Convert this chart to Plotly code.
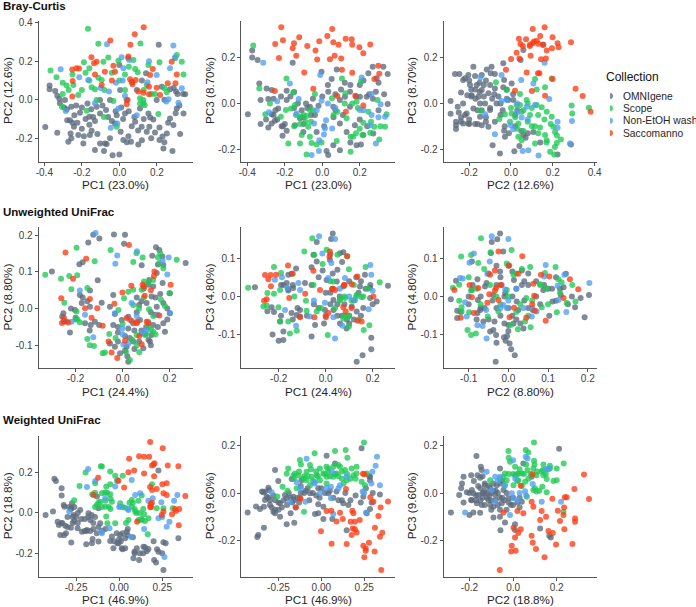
import plotly.graph_objects as go

W, H = 696, 607
COLLECTIONS = ['OMNIgene', 'Scope', 'Non-EtOH wash', 'Saccomanno']
COLORS = ['#5b6a7c', '#1fc955', '#4f9ff0', '#fb3c14']

# --- Bray-Curtis, PC1 / PC2
bc12_omni = [(-.395,-.142),(-.372,.073),(-.372,.054),(-.342,.045),(-.331,.021),(-.32,.005),(-.331,-.171),(-.317,-.019),(-.295,-.04),(-.29,-.002),(-.278,-.106),(-.263,-.106),(-.256,-.036),(-.272,-.218),(-.26,-.175),(-.256,-.2),(-.242,-.14),(-.21,-.067),(-.2,-.04),(-.219,-.183),(-.192,-.227),(-.189,-.189),(-.224,-.119),(-.16,-.088),(-.157,-.183),(-.148,-.161),(-.13,-.261),(-.117,-.178),(-.103,-.227),(-.077,-.227),(-.068,-.23),(-.082,-.265),(-.036,-.287),(0,-.284),(-.121,-.036),(-.103,-.071),(-.071,-.054),(-.103,-.002),(.021,-.209),(.048,-.189),(.066,-.137),(.084,-.114),(.101,-.232),(.062,-.218),(.119,-.14),(.146,-.166),(.164,-.092),(.181,-.102),(.214,-.144),(.214,-.209),(.235,-.253),(.283,-.266),(.253,-.175),(.27,-.097),(.288,-.131),(.324,-.178),(.342,-.071),(.351,.028),(.306,-.045),(.27,.054),(.302,.042),(.21,.284),(.142,.137),(.093,.05),(-.014,-.08),(.03,-.071),(-.05,-.002),(.004,.05),(.039,-.002),(.048,.215),(.007,-.166),(-.023,-.123),(.199,-.002),(.155,-.071),(.11,-.045),(.226,.067),(-.28,-.05),(-.24,-.08),(-.23,-.03),(-.18,-.1),(-.17,-.02),(-.15,-.05),(-.14,-.09),(-.13,-.11),(-.09,-.03),(-.06,-.09),(-.04,-.11),(-.02,-.06),(.01,-.04),(.02,-.1),(.05,-.06),(.08,-.09),(.1,-.16),(.13,-.1),(.16,-.14),(.19,-.17),(.23,-.19),(.26,-.12),(.3,-.07),(.32,-.03),(.24,.0),(.29,.06),(-.25,-.12),(-.2,-.15),(-.16,-.13),(-.05,-.2),(.04,-.22),(.12,-.21),(.17,-.2),(.24,-.22),(.31,.03),(.34,.03),(.12,.1),(.0,.18)]
bc12_scope = [(-.167,.367),(-.112,.289),(.112,.291),(-.367,.151),(-.335,.116),(-.302,.088),(-.302,.029),(-.306,-.036),(-.281,.073),(-.245,.076),(-.219,.024),(-.189,.194),(-.16,.163),(-.148,.064),(-.13,.054),(-.112,.114),(-.094,.102),(-.059,.218),(-.085,.197),(-.005,.201),(-.032,-.007),(-.121,-.002),(-.174,-.057),(-.082,-.09),(-.014,-.14),(.075,.206),(.084,.159),(.098,.142),(.03,.05),(.128,-.019),(.155,.18),(.146,.076),(.171,.029),(.214,.194),(.208,-.074),(.306,.232),(.333,.197),(.342,.131),(.253,.038),(.128,-.002),(.135,-.029),(.11,.007),(.297,.215),(-.25,.13),(-.2,.05),(-.16,.1),(-.08,.05),(-.04,.14),(.0,.1),(.03,.13),(.07,.09),(.13,.05),(.19,.03),(.24,.06),(.11,-.02),(-.27,.05),(-.18,.14),(.05,.17)]
bc12_wash = [(-.066,.287),(-.313,.157),(-.214,.116),(-.166,.102),(-.286,-.059),(-.13,-.019),(-.055,.043),(-.018,.088),(.018,.099),(.012,.22),(.021,.163),(.053,.206),(-.005,-.045),(-.046,-.145),(-.011,-.123),(.093,-.08),(.158,.199),(.199,.128),(.27,.163),(.288,.28),(.297,.22),(.333,.059),(.262,.002),(.315,-.016),(-.1,.06),(.03,.02),(.15,.09),(.25,-.01)]
bc12_sacc = [(.13,.375),(.082,.339),(-.048,.306),(.059,.284),(.048,.223),(-.149,.22),(-.121,.197),(-.135,.189),(-.077,.145),(-.032,.176),(-.023,.145),(-.228,.163),(-.215,.161),(-.251,.156),(-.249,.097),(-.251,.016),(-.094,.076),(.057,.106),(.066,.093),(.087,.102),(.044,-.002),(.039,-.024),(.101,.042),(.128,.036),(.158,.067),(.158,.028),(.178,.159),(.199,.062),(.217,.024),(.258,.085),(.299,.085),(.279,.197),(.306,.131),(.164,.128),(-.13,.13),(-.04,.1),(.07,.08)]

# --- Bray-Curtis, PC1 / PC3
bc13_omni = [(-.397,-.047),(-.374,.23),(-.374,.2),(-.345,.189),(-.336,.087),(-.329,.015),(-.329,-.09),(-.288,.019),(-.297,.065),(-.27,.058),(-.27,-.047),(-.27,-.087),(-.288,-.105),(-.253,-.076),(-.217,-.099),(-.212,-.141),(-.19,-.119),(-.158,.177),(-.19,.055),(-.235,-.022),(-.19,.015),(-.087,0),(-.119,-.065),(-.101,-.124),(-.039,-.051),(-.03,-.124),(-.004,.138),(.05,.106),(.077,.148),(.032,.051),(.059,-.015),(.094,.015),(.121,.029),(.148,.051),(.201,.029),(.269,.16),(.326,.16),(.349,.128),(.246,.131),(.29,.109),(.349,-.003),(.237,.029),(.286,.051),(.183,-.182),(.206,-.179),(.094,-.204),(.032,-.225),(.023,-.207),(.059,-.182),(.094,-.087),(.13,-.124),(.174,-.095),(.219,-.138),(.272,-.131),(.148,-.015),(-.066,-.015),(-.146,-.095),(-.3,-.07),(-.26,-.05),(-.24,-.07),(-.2,-.09),(-.17,.03),(-.15,-.02),(-.13,.0),(-.11,-.03),(-.1,-.06),(-.08,-.02),(-.06,-.05),(-.05,.02),(-.02,-.01),(0,.03),(.03,.08),(.07,-.03),(.07,.04),(.1,.06),(.12,.09),(.15,.08),(.18,.03),(.2,.08),(.22,.1),(.25,.04),(.27,.02),(.3,.09),(.3,-.03),(.33,.04),(-.22,.03),(-.26,.02),(-.25,-.03),(-.1,-.09),(.01,-.1),(.06,-.06),(.11,-.05),(.15,-.17),(.2,-.07),(.24,-.1),(-.15,.05),(-.21,-.1)]
bc13_scope = [(-.368,.252),(-.191,.108),(-.336,.065),(-.279,0),(-.304,-.047),(-.155,.048),(-.039,.041),(.052,.022),(.105,.108),(.123,.044),(.206,.095),(.183,.007),(.295,.015),(-.194,-.029),(-.167,-.022),(-.146,-.007),(-.221,-.058),(-.119,-.058),(-.084,-.055),(-.066,-.029),(-.181,-.175),(-.119,-.175),(-.057,-.172),(-.03,-.179),(-.004,-.17),(-.084,-.223),(.077,-.164),(.151,-.145),(.165,-.145),(.151,-.211),(.214,-.138),(.304,-.157),(.256,-.128),(.335,-.102),(.278,-.102),(.343,-.047),(.246,-.036),(.219,-.084),(.08,-.036),(.13,-.065),(-.11,-.138),(-.066,-.145),(-.119,-.09),(-.075,-.102),(-.14,-.05),(-.1,-.05),(-.09,-.08),(-.06,-.08),(.06,-.05),(.12,.0),(.16,.0),(.19,-.02),(.26,-.08),(.31,-.1),(.2,-.11),(-.15,-.1),(-.05,-.03),(.18,-.13)]
bc13_wash = [(-.315,.177),(-.011,.124),(-.173,.087),(-.126,.019),(-.24,.009),(-.285,-.039),(-.004,.012),(.21,.113),(.263,.041),(.311,-.004),(.263,-.051),(.201,-.029),(-.137,-.044),(-.044,-.087),(.02,-.073),(.014,-.109),(.053,-.109),(.009,-.135),(-.016,-.16),(-.018,-.207),(-.057,-.225),(.286,-.175),(.254,-.095),(.335,-.058),(-.03,-.03),(.03,.0),(.07,-.02),(.22,-.03),(.3,-.06)]
bc13_sacc = [(-.219,.332),(.053,.324),(.027,.294),(-.123,.288),(-.21,.275),(-.251,.259),(-.151,.262),(-.158,.24),(-.08,.25),(-.016,.271),(.059,.266),(.087,.255),(.125,.281),(.157,.279),(.16,.255),(.198,.244),(.256,.257),(.219,.218),(-.036,.23),(-.027,.191),(-.139,.208),(-.231,.198),(.066,.207),(.041,.192),(.101,.196),(-.096,.135),(.105,.147),(.16,.134),(.299,.164),(.304,.129),(.278,.106),(-.048,.064),(-.253,.054),(.08,.032),(.176,.033),(.126,-.036),(.219,-.009)]

# --- Bray-Curtis, PC2 / PC3
bc23_omni = [(-.289,.01),(-.289,-.045),(-.268,.128),(-.247,.128),(-.263,-.08),(-.263,-.095),(-.263,-.112),(-.255,-.015),(-.239,.048),(-.239,-.061),(-.229,.102),(-.22,.109),(-.204,.124),(-.229,0),(-.212,-.044),(-.229,-.087),(-.204,-.087),(-.209,.036),(-.18,.16),(-.172,.119),(-.14,.124),(-.164,.08),(-.188,.036),(-.156,.029),(-.172,-.09),(-.14,-.095),(-.116,.148),(-.093,.16),(-.097,.131),(-.077,.128),(-.037,.175),(-.033,.102),(.003,.087),(-.14,.058),(-.108,.044),(-.077,.065),(-.037,.07),(-.124,0),(-.1,-.029),(-.069,0),(-.077,-.08),(-.108,-.102),(-.088,-.182),(-.053,-.218),(.016,-.208),(.04,-.186),(-.029,-.145),(-.033,-.119),(.059,-.138),(.059,.233),(.046,.189),(.155,.255),(.223,-.223),(.287,-.179),(-.013,.015),(.011,.015),(.107,-.124),(-.18,-.022),(-.148,0),(-.148,-.058),(-.196,.08),(-.25,-.04),(-.22,-.05),(-.2,-.07),(-.19,.06),(-.17,.06),(-.17,.02),(-.15,.05),(-.13,.03),(-.13,.08),(-.19,.03),(-.16,-.03),(-.14,-.03),(-.12,-.06),(-.09,.02),(-.08,.04),(-.06,.03),(-.02,.06),(-.02,.02),(-.1,.08),(-.12,.1),(-.15,.09),(-.2,.1),(-.24,-.08),(-.2,-.09),(-.16,-.09),(-.12,-.08),(-.05,-.05),(.02,-.05),(.02,-.1),(.05,-.12),(-.01,-.13),(.03,-.03),(-.04,-.03),(.07,-.15),(.14,-.17),(-.1,-.02),(-.05,.0),(.08,-.13),(.01,.04),(-.03,-.1)]
bc23_scope = [(-.072,.092),(.115,.106),(.195,.108),(.163,.07),(.123,.061),(-.021,.058),(.043,.041),(.29,-.009),(.293,-.044),(.373,-.019),(-.145,-.032),(-.056,-.068),(-.029,-.047),(.003,-.044),(.043,-.007),(.075,.015),(.123,-.007),(.147,-.017),(.171,-.036),(.195,-.058),(.115,-.099),(.08,-.08),(-.005,-.08),(.035,-.087),(.203,-.102),(.211,-.124),(.035,-.145),(.051,-.16),(.115,-.175),(.171,-.16),(.187,-.211),(.207,-.223),(.219,-.172),(.239,-.157),(.163,-.138),(.139,-.105),(.091,-.051),(.051,-.036),(.027,-.007),(.0,-.02),(.06,-.03),(.1,-.02),(.08,.0),(.13,-.05),(.16,-.07),(.19,-.09),(.1,-.1),(.13,-.13),(.17,-.17),(.21,-.19),(.03,-.11),(.06,-.12),(.02,-.06),(.22,-.14)]
bc23_wash = [(-.147,.113),(-.045,.124),(.049,.102),(.107,.087),(.161,.177),(.183,.019),(-.045,.01),(-.077,-.134),(-.124,-.047),(-.002,-.095),(.011,-.113),(.051,-.061),(.223,-.08),(.223,-.106),(.292,-.077),(.282,-.175),(.132,-.227),(.083,-.204),(.056,-.207),(.075,-.015),(-.021,.015),(.115,-.007),(.03,-.04),(.08,-.07),(.03,.0)]
bc23_sacc = [(.104,.324),(.161,.332),(.14,.294),(.199,.288),(.038,.281),(.072,.279),(.045,.259),(.057,.25),(.091,.255),(.104,.262),(.123,.273),(.152,.255),(.223,.262),(.228,.244),(.287,.266),(.196,.24),(.171,.23),(.027,.221),(0,.193),(.04,.196),(.094,.207),(.144,.192),(.167,.196),(-.024,.147),(.075,.135),(.136,.131),(.199,.106),(.019,.055),(.1,.054),(.163,.033),(.309,.064),(.343,.032),(.381,-.036),(.129,.131),(.11,.27),(.13,.26),(.09,.25)]

# --- Unweighted UniFrac, PC1 / PC2
uu12_omni = [(-.301,.101),(-.146,.18),(-.125,.201),(-.099,.191),(-.037,.202),(.01,.201),(.006,.177),(-.184,.121),(-.17,.126),(-.106,.077),(.142,.167),(.156,.16),(.126,.144),(.169,.142),(.268,.124),(.081,.118),(.173,.119),(.113,.078),(-.139,.049),(-.182,.037),(-.174,.015),(-.252,-.013),(-.257,-.022),(-.224,-.065),(-.203,-.004),(-.136,-.045),(-.118,-.036),(-.139,.005),(-.089,.016),(-.04,.037),(-.054,.005),(-.033,-.015),(-.04,-.045),(-.004,-.031),(.024,-.022),(.024,-.054),(.045,-.04),(.045,-.09),(.116,-.09),(-.033,-.104),(-.011,-.122),(.024,-.145),(.088,-.108),(.123,-.072),(.138,-.017),(.173,-.04),(.102,.015),(.123,.033),(.201,-.013),(.18,-.063),(.145,.005),(.173,.015),(.201,.042),(.074,-.031),(.017,-.104),(-.054,-.095),(.095,-.067),(.109,.065),(.145,.097),(-.24,-.035),(-.2,-.025),(-.17,.03),(-.16,-.04),(-.14,-.06),(-.1,-.045),(-.02,-.05),(-.02,-.09),(.01,-.075),(.03,-.08),(.01,-.115),(.02,-.13),(.05,-.06),(.07,-.09),(.08,-.06),(.06,-.01),(.1,-.05),(.11,-.085),(.12,-.1),(.13,-.045),(.15,-.05),(.12,-.01),(.08,.02),(.06,.03),(.09,.055),(.13,.06),(.14,.03),(.15,.12),(.17,.07),(.16,.04),(.19,.0),(.19,-.03),(.07,.01),(.05,-.11),(-.02,-.065),(-.22,.0),(-.25,-.035),(-.15,.02)]
uu12_scope = [(-.329,.092),(-.262,.081),(-.227,.089),(-.193,.091),(-.196,.166),(-.119,.129),(-.051,.16),(.045,.127),(.059,.151),(.085,.139),(.156,.124),(.23,.133),(.173,.11),(-.218,.053),(-.15,.056),(-.248,.016),(-.196,-.008),(-.193,-.029),(-.182,-.037),(-.15,-.083),(-.14,-.1),(-.122,-.102),(-.085,-.122),(-.075,-.12),(-.057,-.069),(-.018,-.004),(.006,.028),(.045,.051),(.024,.046),(.045,.01),(.091,.074),(.112,-.002),(.121,-.058),(.13,-.063),(.163,.024),(.18,.007),(.199,.042),(.031,-.14),(.071,-.119),(.06,-.072),(.095,-.072),(.13,.078),(.081,.051),(.014,-.118),(0,-.042),(.07,.0),(.09,.03),(.11,.07),(.1,-.07),(.14,-.07),(.06,-.1),(.04,-.085),(.15,.14),(.11,-.05),(-.03,-.08),(.16,.15),(-.2,-.03),(.13,-.02)]
uu12_wash = [(-.115,.206),(-.023,.145),(-.031,.122),(.061,.156),(.196,.139),(.19,.093),(-.182,.049),(-.16,-.017),(-.217,-.036),(-.125,-.078),(-.033,-.013),(-.001,-.054),(.031,-.031),(.003,-.098),(.024,-.095),(.081,-.067),(.201,-.013),(.149,-.017),(.109,-.036),(.038,.015),(.0,-.07),(.06,-.02),(.1,-.06),(.17,.13)]
uu12_sacc = [(-.243,.153),(-.155,.136),(.027,.173),(-.211,.081),(-.261,.028),(-.25,-.025),(-.258,-.039),(-.231,-.038),(-.139,.026),(-.16,.001),(-.108,.001),(-.132,-.025),(-.085,-.047),(-.035,.013),(-.001,.044),(.037,.062),(.085,.065),(.094,.035),(.135,.101),(.133,.089),(.204,.065),(.017,-.026),(.038,-.033),(.062,-.036),(.102,-.036),(.071,-.075),(.081,-.097),(.01,-.088),(-.06,-.09),(-.047,-.12),(-.023,-.135),(.156,-.019),(.09,.06),(.12,.05),(.06,-.04),(.11,-.04)]

# --- Unweighted UniFrac, PC1 / PC3
uu13_omni = [(.03,.164),(-.038,.142),(.023,.15),(.018,.096),(.061,.113),(.075,.115),(-.301,.024),(-.145,.059),(-.126,.073),(-.159,.057),(.265,.028),(-.06,.076),(-.013,.068),(-.038,.091),(-.052,.109),(-.248,-.038),(-.23,-.028),(-.226,-.099),(-.2,-.115),(-.18,-.113),(-.18,-.091),(.132,-.17),(.157,-.153),(.194,-.137),(.194,-.107),(-.06,-.104),(-.088,.035),(-.138,.022),(-.18,.03),(-.166,.035),(-.159,.016),(-.109,-.035),(-.109,-.052),(-.045,-.074),(-.007,-.07),(.033,-.035),(.033,-.009),(.061,-.07),(.089,-.083),(.111,-.026),(.146,.026),(.167,.057),(.189,.022),(.217,-.013),(.189,-.004),(.132,-.039),(.075,.026),(.047,.039),(-.003,-.035),(.004,.043),(-.194,-.065),(-.145,-.043),(-.123,-.048),(.02,.01),(.05,-.02),(.06,.0),(.08,-.02),(.1,-.05),(.12,-.01),(.14,.01),(.1,.04),(.13,.05),(.15,.04),(.17,.02),(.19,.03),(.05,-.05),(.07,-.05),(.09,-.06),(.12,-.06),(.02,-.02),(.0,-.05),(-.03,-.03),(-.05,-.02),(-.08,-.05),(-.12,-.03),(-.16,.02),(-.19,.03),(-.22,-.04),(-.14,.03),(-.06,.03),(-.03,.05),(.03,.06),(.07,.09),(.02,.11),(.1,-.07),(.15,-.05),(.2,-.02),(.16,-.03),(-.14,-.06),(-.19,-.05),(.0,.01),(.05,.07),(.03,.02)]
uu13_scope = [(-.33,.023),(-.265,-.026),(-.251,-.023),(-.248,.009),(-.22,.077),(-.19,.061),(-.194,.017),(-.22,.007),(-.201,-.028),(-.194,-.065),(-.159,-.065),(-.152,-.096),(-.123,-.089),(-.133,0),(-.084,-.011),(-.081,-.037),(-.091,.117),(-.057,.152),(-.048,.108),(-.013,.085),(.004,.122),(.05,.109),(.009,-.1),(.092,.105),(.099,.071),(.17,.077),(.23,.037),(.186,-.075),(.162,-.087),(.099,-.078),(.075,-.057),(.089,-.052),(.061,-.007),(.082,-.004),(.153,-.002),(.132,.004),(.033,.039),(-.038,-.039),(-.052,.03),(.08,-.05),(.1,-.05),(.08,.0),(.11,-.01),(.13,.0),(.16,.0),(.06,-.01),(.04,-.03),(.14,-.06),(.02,.04),(-.02,-.03),(.12,.03),(.18,.02)]
uu13_wash = [(-.028,.157),(.04,.15),(-.014,.112),(.024,.087),(-.186,.05),(-.216,.044),(-.163,.022),(-.116,.035),(-.109,.017),(-.173,-.035),(-.126,-.076),(-.067,-.052),(.04,-.109),(.011,.048),(.082,.048),(.19,.082),(.194,.057),(.2,.015),(.183,-.033),(.071,-.076),(.033,-.054),(-.003,-.016),(.125,-.009),(.06,.02),(.1,.0),(-.05,-.01)]
uu13_sacc = [(-.16,.081),(-.14,.059),(-.258,.056),(-.234,.056),(-.211,.057),(-.244,.045),(-.233,.027),(-.262,-.011),(-.251,-.007),(-.155,-.004),(-.109,-.054),(-.087,.007),(-.052,.067),(-.024,.017),(-.048,-.054),(.001,-.054),(.011,-.043),(.018,.117),(.016,.104),(.091,.105),(.135,.052),(.111,.032),(.078,.03),(.027,.019),(.04,.017),(.203,0),(.075,-.028),(.085,-.039),(.136,-.063),(.153,-.065),(.03,.02),(.11,-.03),(.08,.03)]

# --- Unweighted UniFrac, PC2 / PC3
uu23_omni = [(-.021,.164),(-.028,.149),(-.042,.142),(-.145,-.007),(-.132,.041),(-.129,-.037),(-.129,-.056),(-.092,.091),(-.078,.045),(-.077,-.009),(-.078,-.043),(-.092,.017),(-.059,.026),(-.071,-.035),(-.063,-.065),(-.046,-.091),(-.038,-.087),(-.031,-.1),(-.035,-.065),(-.011,-.106),(-.003,-.103),(-.007,-.115),(.003,-.122),(.007,-.137),(.016,-.153),(-.032,-.17),(-.055,.035),(-.038,.004),(-.017,.03),(-.008,.009),(.014,.043),(.034,.03),(.05,.03),(.021,-.013),(.025,-.035),(0,-.074),(.038,-.083),(.061,-.035),(.013,-.07),(.034,.068),(-.021,.065),(.088,.017),(.111,-.013),(.103,-.05),(.145,.059),(.132,.004),(.168,-.028),(.182,-.004),(.192,-.054),(.203,.004),(.139,.024),(.12,-.011),(.01,.065),(-.013,.117),(-.044,.113),(-.1,-.02),(-.07,.0),(-.06,-.03),(-.05,-.06),(-.03,-.03),(-.02,-.05),(0,-.03),(.01,-.05),(.02,-.06),(.01,0),(.02,.02),(.04,-.01),(.04,.04),(.05,-.03),(.07,.04),(.07,.0),(.08,-.02),(.09,.03),(.1,.02),(.11,.02),(.12,.05),(.13,.02),(-.03,.03),(-.04,-.01),(-.01,.0),(-.02,.05),(-.05,.06),(-.03,.08),(.0,.08),(-.1,.0),(-.12,-.04),(-.08,-.06),(-.07,-.03),(-.09,.03),(.03,-.07),(.0,-.09),(-.03,-.12),(.05,.06),(.16,.0),(.15,-.02),(-.01,-.07)]
uu23_scope = [(-.069,.152),(-.119,.104),(-.094,.108),(-.045,.115),(.008,.121),(-.076,.087),(-.061,.072),(.055,.077),(.034,.072),(-.004,.086),(.013,.057),(.119,.077),(.092,.061),(.126,.045),(.134,.037),(.161,.03),(.169,-.013),(.147,-.017),(.122,-.041),(-.14,.023),(-.124,.031),(-.124,-.011),(-.094,.016),(-.118,-.028),(-.099,-.041),(-.118,-.039),(-.103,-.087),(-.094,-.1),(-.082,-.096),(-.052,-.052),(-.025,-.039),(.006,-.074),(.024,-.085),(.056,-.08),(.042,-.065),(.084,-.028),(.097,.021),(.08,.032),(-.046,.03),(-.004,.017),(.045,-.004),(.0,.0),(.03,-.02),(.06,-.01),(.08,.03),(.02,-.04),(-.07,-.02),(-.08,.02),(-.02,-.02),(.02,.06),(.05,-.05),(.1,-.02),(.13,.01),(-.03,.0),(-.1,.05)]
uu23_wash = [(-.042,.157),(0,.15),(-.087,.112),(-.098,.088),(-.047,.091),(-.053,.059),(-.122,.048),(-.115,.047),(-.109,-.015),(-.105,-.052),(-.078,-.075),(-.065,-.077),(-.055,-.109),(-.056,-.035),(-.013,-.022),(-.004,-.03),(.038,-.03),(.059,-.052),(.094,.082),(.09,.052),(.124,.028),(.141,.057),(.126,-.009),(.146,-.04),(.204,.035),(-.008,.018),(.071,-.039),(-.02,-.03),(.0,-.01),(.02,.02),(.06,-.03)]
uu23_sacc = [(.035,.105),(-.025,.117),(.002,.081),(-.034,.068),(-.136,.017),(-.098,.03),(-.076,.022),(-.048,.006),(-.092,-.002),(-.087,-.043),(-.12,-.055),(-.053,-.016),(-.025,-.009),(-.034,.016),(-.046,.057),(.003,-.054),(.014,-.029),(.025,.059),(.063,.033),(.082,.057),(.103,.052),(.065,.002),(.067,-.037),(.045,-.055),(.094,-.063),(.155,.045),(.176,.019),(.139,-.004),(-.031,.022),(-.02,.03),(.06,-.02)]

# --- Weighted UniFrac, PC1 / PC2
wu12_omni = [(-.427,-.01),(-.384,.007),(-.376,.169),(-.367,.159),(-.334,.122),(-.334,.086),(-.357,-.043),(-.336,-.051),(-.342,-.109),(-.313,-.063),(-.322,.04),(-.317,.031),(-.274,.048),(-.278,.023),(-.264,-.01),(-.261,-.04),(-.28,-.073),(-.309,-.101),(-.278,-.147),(-.241,-.076),(-.216,-.093),(-.226,.015),(-.178,-.002),(-.168,-.035),(-.187,-.084),(-.168,-.089),(-.191,-.155),(-.154,-.129),(-.158,-.15),(-.12,-.142),(-.129,.081),(-.12,.023),(-.11,-.051),(-.052,-.139),(-.033,-.175),(.006,-.109),(-.004,-.15),(.015,-.175),(.044,-.093),(.035,-.175),(.089,-.192),(.083,-.225),(.116,-.233),(.141,-.167),(.17,-.179),(.203,-.233),(.214,-.245),(.257,-.283),(.228,-.192),(.257,-.145),(.344,-.126),(.228,.21),(.035,-.126),(-.014,-.101),(.102,-.175),(-.042,-.117),(-.33,-.05),(-.3,-.02),(-.3,-.07),(-.28,.02),(-.26,.03),(-.25,-.02),(-.27,-.05),(-.24,-.05),(-.22,-.03),(-.2,-.03),(-.2,-.09),(-.19,-.09),(-.15,-.08),(-.15,-.05),(-.12,-.07),(-.13,-.1),(-.18,-.02),(-.14,-.02),(-.1,-.09),(-.08,-.08),(-.03,-.14),(-.01,-.15),(.01,-.14),(.0,-.13),(.02,-.18),(.05,-.11),(.08,-.12),(.09,-.2),(.12,-.2),(.14,-.2),(.16,-.19),(.15,-.17),(.2,-.14),(.22,-.18),(.25,-.2),(.27,-.15),(-.29,.03),(-.35,-.06),(-.32,-.11),(.05,-.08),(.02,-.1),(-.24,.0),(-.16,-.01),(-.27,-.02)]
wu12_scope = [(-.106,.231),(-.23,.134),(-.261,.063),(-.195,.2),(-.156,.093),(-.139,.147),(-.129,.04),(-.075,.131),(-.052,.142),(-.052,.205),(-.023,.185),(.021,.185),(-.012,.159),(-.1,.098),(-.081,.102),(-.052,.093),(-.042,.056),(-.081,.031),(-.075,-.018),(-.068,-.051),(.006,.048),(.035,.026),(.073,.064),(.073,.031),(.054,-.035),(.093,.007),(.112,.06),(.131,.086),(.145,-.007),(.131,-.035),(.17,-.026),(.166,-.106),(.191,.142),(.218,.023),(.257,.023),(.311,.023),(-.023,-.051),(.112,-.035),(-.11,.056),(-.14,.1),(-.12,.05),(-.1,.03),(-.07,.1),(-.05,.07),(-.08,.06),(-.06,.03),(-.05,.02),(.02,.03),(.08,.05),(.1,-.0),(.12,.0),(.09,.02),(.14,.02),(.13,-.03),(.15,-.04),(-.1,.23),(.06,.05),(.04,-.05),(-.14,.03)]
wu12_wash = [(-.18,.218),(-.187,.129),(-.29,.007),(-.139,.159),(-.081,.073),(-.023,.131),(-.01,.164),(.006,.031),(.054,.015),(.093,.089),(.073,.164),(.122,.098),(.195,.073),(.245,.053),(.319,.06),(.338,.089),(.228,-.026),(.292,-.043),(.276,-.068),(.145,-.079),(.263,-.218),(-.104,-.093),(-.056,-.076),(.069,-.119),(.0,.03),(.05,.02),(.17,.06),(.25,-.02),(-.1,-.1)]
wu12_sacc = [(.18,.352),(.253,.321),(.058,.269),(.116,.281),(.145,.279),(.174,.279),(.205,.246),(.191,.235),(.282,.235),(.344,.231),(.054,.202),(.087,.21),(.145,.195),(.203,.182),(-.122,.175),(-.004,.16),(.029,.126),(.18,.129),(.191,.114),(.218,.119),(.251,.142),(.276,.147),(.257,.098),(.276,.089),(.384,.084),(.183,.043),(.185,.028),(.257,.007),(.247,-.01),(.307,-.007),(.33,.01),(.349,.02),(.324,.02),(.346,-.061),(.104,-.043),(-.149,.089),(.2,.24),(.18,.03),(.19,.05)]

# --- Weighted UniFrac, PC1 / PC3
wu13_omni = [(-.43,-.081),(-.381,-.056),(-.358,-.067),(-.335,-.057),(-.368,-.176),(-.374,-.184),(-.335,-.145),(-.346,.006),(-.339,.003),(-.309,.022),(-.305,.013),(-.319,-.015),(-.329,-.029),(-.28,-.078),(-.27,-.085),(-.241,-.099),(-.27,.096),(-.251,.05),(-.241,-.043),(-.202,-.022),(-.212,-.008),(-.179,-.085),(-.202,-.131),(-.158,-.124),(-.173,.059),(-.115,.054),(-.125,-.022),(-.163,-.015),(-.037,-.088),(-.018,-.085),(-.018,-.047),(.012,-.057),(.012,-.109),(.064,-.109),(.031,.156),(.08,.124),(-.018,.02),(.041,-.001),(.089,.006),(.128,-.043),(.158,-.05),(.245,-.015),(.284,.054),(.284,.068),(.235,.187),(.148,-.156),(.265,-.085),(.284,-.067),(.342,-.006),(.294,-.04),(-.066,-.001),(-.33,.005),(-.31,-.02),(-.3,-.03),(-.29,-.06),(-.28,-.01),(-.27,-.03),(-.25,-.04),(-.23,-.06),(-.22,-.03),(-.2,-.05),(-.19,.0),(-.18,-.02),(-.17,-.04),(-.16,-.03),(-.15,-.06),(-.14,-.02),(-.13,-.04),(-.12,.0),(-.1,.0),(-.09,.01),(-.08,.02),(-.07,-.03),(-.05,.0),(-.03,-.01),(-.01,-.02),(.02,.0),(.05,.01),(.07,-.02),(.1,-.03),(.12,-.03),(.14,.0),(.17,-.03),(.2,-.01),(.23,-.04),(.26,.02),(.28,.07),(.3,.0),(-.27,-.07),(-.25,-.07),(-.3,-.05),(-.12,.03),(.0,.02)]
wu13_scope = [(.249,.212),(-.039,.167),(.08,.176),(.142,.18),(.152,.148),(-.125,.138),(-.119,.12),(-.193,.103),(-.202,.081),(-.154,.082),(-.134,.073),(-.226,.026),(-.198,.01),(-.257,-.014),(-.144,.02),(-.101,-.078),(-.086,.089),(-.066,.117),(-.056,.068),(-.008,.103),(.012,.082),(.041,.103),(.07,.068),(.109,.11),(.138,.096),(.177,.103),(.206,.11),(.206,.082),(.187,.075),(.148,.054),(.235,.047),(.265,.082),(.255,.033),(-.027,.075),(-.105,.061),(-.066,.033),(.031,.04),(.089,.082),(.099,.117),(.07,.11),(.031,.068),(-.008,.054),(-.086,.054),(-.163,.073),(-.16,.06),(-.13,.09),(-.1,.07),(-.08,.07),(-.06,.1),(-.03,.09),(-.02,.07),(.02,.08),(.04,.09),(.05,.07),(.08,.08),(.1,.07),(.12,.06),(.12,.09),(.15,.08),(.17,.06),(.2,.06),(.13,.04),(.03,.11),(-.05,.05)]
wu13_wash = [(-.086,.144),(.325,.152),(.317,.114),(.298,.089),(.292,.04),(.342,.033),(.241,.006),(-.29,.003),(-.183,-.036),(-.093,-.036),(-.037,.047),(-.008,-.001),(.056,-.022),(.07,-.088),(.062,.089),(.148,.068),(.109,.033),(.261,-.081),(-.144,.045),(.056,.026),(-.12,.02),(-.04,.04),(.03,.02),(.1,.02),(.25,.0)]
wu13_sacc = [(.389,-.035),(.346,-.06),(.286,-.018),(.304,-.036),(.333,-.096),(.251,.079),(.243,.081),(.144,.017),(-.121,-.024),(-.148,-.06),(.031,-.075),(.058,-.074),(.109,-.082),(.125,-.109),(.089,-.119),(.181,-.074),(.187,-.085),(.171,-.12),(.196,-.12),(.224,-.113),(.183,-.148),(.196,-.151),(.206,-.165),(.177,-.176),(-.002,-.16),(.06,-.212),(.148,-.213),(.245,-.22),(.278,-.208),(.259,-.232),(.259,-.241),(.251,-.269),(.311,-.245),(.313,-.145),(.342,-.183),(.356,-.166),(.35,-.322)]

# --- Weighted UniFrac, PC2 / PC3
wu23_omni = [(-.285,-.081),(-.247,-.008),(-.238,.02),(-.234,.04),(-.227,.068),(-.227,-.039),(-.2,-.092),(-.182,-.081),(-.151,-.082),(-.192,.075),(-.168,.155),(-.163,.075),(-.148,.11),(-.144,.096),(-.151,.064),(-.212,.003),(-.189,.013),(-.182,-.001),(-.192,-.029),(-.166,-.043),(-.159,-.008),(-.128,.033),(-.136,-.001),(-.113,-.029),(-.09,-.057),(-.09,-.102),(-.06,-.099),(-.037,-.123),(-.058,-.156),(.009,-.131),(.009,-.155),(.124,-.148),(.166,-.179),(.173,-.186),(.211,.185),(.047,.124),(-.06,.103),(-.044,.013),(-.021,-.022),(.04,-.036),(.085,.068),(-.075,.033),(-.105,.02),(-.082,-.008),(-.052,-.043),(-.105,-.05),(-.144,-.05),(-.2,.0),(-.19,-.03),(-.17,-.01),(-.17,-.03),(-.15,-.03),(-.14,.0),(-.14,-.02),(-.13,.01),(-.12,.0),(-.12,-.02),(-.11,-.01),(-.11,.03),(-.1,-.03),(-.1,.0),(-.09,.01),(-.08,.01),(-.08,-.03),(-.07,.0),(-.07,-.05),(-.06,-.02),(-.05,-.02),(-.04,-.03),(-.03,.0),(-.02,-.04),(-.01,-.05),(.0,-.05),(.02,-.04),(.03,-.02),(-.15,.02),(-.13,.04),(-.09,.04),(-.06,.04),(-.16,.03),(-.13,-.05),(-.1,-.07),(-.06,-.07),(-.03,-.07),(.03,-.06),(-.18,.05),(-.14,.07),(.0,-.02),(-.05,.05)]
wu23_scope = [(.096,.212),(-.021,.176),(.058,.18),(.07,.17),(-.02,.148),(-.014,.131),(.096,.135),(.098,.12),(.139,.12),(.169,.114),(.2,.103),(.232,.124),(.136,.096),(.169,.103),(.009,.11),(.024,.082),(.066,.096),(.093,.103),(-.105,.054),(-.044,.068),(-.029,.054),(-.037,.033),(.002,.033),(.024,.054),(.055,.047),(.107,.075),(.139,.075),(.154,.059),(.185,.05),(.2,.054),(.134,.026),(.154,.003),(.093,.013),(.107,.006),(.231,-.078),(.04,.082),(.063,-.015),(.009,.075),(-.037,.082),(.0,.08),(.02,.08),(.05,.08),(.08,.08),(.11,.09),(.13,.09),(.15,.08),(.02,.05),(.04,.03),(.07,.06),(.1,.02),(.12,.01),(-.02,.08),(-.06,.06),(.03,.1),(.16,.1),(.06,.12)]
wu23_wash = [(0,.137),(.058,.152),(.066,.145),(.163,.103),(-.121,.089),(-.22,-.081),(-.082,-.036),(-.014,-.092),(-.098,.013),(-.082,.068),(-.06,.068),(.09,.038),(.002,-.022),(.024,-.029),(.055,.008),(.131,-.036),(.22,-.036),(-.006,-.001),(-.07,.05),(-.04,.03),(.03,.0),(.01,.06),(.06,-.01),(.15,.1)]
wu23_sacc = [(.325,.078),(.348,-.025),(.281,.017),(.18,-.024),(.237,-.018),(.246,-.018),(.234,-.06),(.205,-.074),(.231,-.092),(.284,-.106),(.284,-.12),(.215,-.117),(.235,-.151),(.151,-.099),(.124,-.113),(.131,-.075),(.085,-.036),(.093,-.057),(.035,.031),(.089,.079),(-.044,-.081),(.02,-.075),(.047,-.085),(.002,-.145),(.035,-.151),(.024,-.167),(.009,-.186),(.085,-.179),(.09,-.208),(.105,-.234),(-.006,-.22),(-.009,-.245),(.012,-.241),(.144,-.269),(-.061,-.322),(.162,-.159),(.182,-.167),(.197,-.215),(.272,-.213)]

ticks_bc_x = [-0.4, -0.2, 0.0, 0.2]
ticks_bc_pc2 = [-0.2, 0.0, 0.2, 0.4]
ticks_bc_pc3 = [-0.2, 0.0, 0.2]
ticks_uu_x = [-0.2, 0.0, 0.2]
ticks_uu_pc2 = [-0.1, 0.0, 0.1, 0.2]
ticks_uu_pc3 = [-0.1, 0.0, 0.1]
ticks_wu_x = [-0.25, 0.0, 0.25]
ticks_wu_pc2 = [-0.2, 0.0, 0.2]
ticks_wu_pc3 = [-0.2, 0.0, 0.2]

COL_PX = [(38.7, 192.7), (241.3, 395), (443.7, 597.3)]
ROW_PX = [(20.5, 161.5), (227, 368), (435.7, 576.7)]
TITLE_X = [7, 209, 411]
GROUP_TITLES = ['Bray-Curtis', 'Unweighted UniFrac', 'Weighted UniFrac']
GROUP_TITLE_Y = [6, 212, 420]

# series, x ticks, y ticks, x range, y range, x title, y title, tick decimals
panels = [
    ([bc12_omni, bc12_scope, bc12_wash, bc12_sacc], ticks_bc_x, ticks_bc_pc2, (-.43, .391), (-.32, .41), 'PC1 (23.0%)', 'PC2 (12.6%)', 1),
    ([bc13_omni, bc13_scope, bc13_wash, bc13_sacc], ticks_bc_x, ticks_bc_pc3, (-.432, .388), (-.253, .361), 'PC1 (23.0%)', 'PC3 (8.70%)', 1),
    ([bc23_omni, bc23_scope, bc23_wash, bc23_sacc], ticks_bc_pc2, ticks_bc_pc3, (-.322, .413), (-.253, .361), 'PC2 (12.6%)', 'PC3 (8.70%)', 1),
    ([uu12_omni, uu12_scope, uu12_wash, uu12_sacc], ticks_uu_x, ticks_uu_pc2, (-.357, .298), (-.162, .2224), 'PC1 (24.4%)', 'PC2 (8.80%)', 1),
    ([uu13_omni, uu13_scope, uu13_wash, uu13_sacc], ticks_uu_x, ticks_uu_pc3, (-.359, .295), (-.186, .181), 'PC1 (24.4%)', 'PC3 (4.80%)', 1),
    ([uu23_omni, uu23_scope, uu23_wash, uu23_sacc], ticks_uu_pc3 + [0.2], ticks_uu_pc3, (-.163, .224), (-.186, .181), 'PC2 (8.80%)', 'PC3 (4.80%)', 1),
    ([wu12_omni, wu12_scope, wu12_wash, wu12_sacc], ticks_wu_x, ticks_wu_pc2, (-.467, .427), (-.316, .383), 'PC1 (46.9%)', 'PC2 (18.8%)', 2),
    ([wu13_omni, wu13_scope, wu13_wash, wu13_sacc], ticks_wu_x, ticks_wu_pc3, (-.467, .43), (-.35, .24), 'PC1 (46.9%)', 'PC3 (9.60%)', 2),
    ([wu23_omni, wu23_scope, wu23_wash, wu23_sacc], ticks_wu_pc2, ticks_wu_pc3, (-.318, .386), (-.35, .24), 'PC2 (18.8%)', 'PC3 (9.60%)', 1),
]

TICK_FONT = dict(family='Liberation Sans', size=10, color='#404040')
TITLE_FONT = dict(family='Liberation Sans', size=11.7, color='#262626')
MARKER_SIZE = 6


def labels(vals, dec):
    return [f'{v:.{dec}f}' for v in vals]


def px_x(x):
    return x / W


def px_y(y):
    return 1 - y / H


def note(text, x, y, font, xanchor='center', **kw):
    return dict(text=text, x=px_x(x), y=px_y(y), xref='paper', yref='paper',
                showarrow=False, font=font, xanchor=xanchor, yanchor='middle', **kw)


fig = go.Figure()
annotations = []
layout_axes = {}
for i, (series, xt, yt, xr, yr, xtitle, ytitle, dec) in enumerate(panels):
    row, col = divmod(i, 3)
    n = i + 1
    for pts, name, color in zip(series, COLLECTIONS, COLORS):
        xs, ys = zip(*pts)
        fig.add_trace(go.Scatter(
            x=xs, y=ys, mode='markers', name=name, xaxis=f'x{n}', yaxis=f'y{n}',
            showlegend=False,
            marker=dict(color=color, size=MARKER_SIZE, opacity=0.78, line_width=0),
        ))
    axis_style = dict(showgrid=False, zeroline=False, showline=True, linecolor='#555555',
                      linewidth=1, ticks='outside', ticklen=3, tickwidth=1, automargin=False,
                      tickcolor='#555555', tickfont=TICK_FONT, tickmode='array')
    layout_axes[f'xaxis{n}'] = dict(axis_style, anchor=f'y{n}', range=xr, ticklabelstandoff=-2,
                                    domain=[px_x(COL_PX[col][0]), px_x(COL_PX[col][1])],
                                    tickvals=xt, ticktext=labels(xt, dec))
    layout_axes[f'yaxis{n}'] = dict(axis_style, anchor=f'x{n}', range=yr,
                                    domain=[px_y(ROW_PX[row][1]), px_y(ROW_PX[row][0])],
                                    tickvals=yt, ticktext=labels(yt, 1))
    annotations.append(note(xtitle, sum(COL_PX[col]) / 2, ROW_PX[row][1] + 23, TITLE_FONT))
    annotations.append(note(ytitle, TITLE_X[col], sum(ROW_PX[row]) / 2, TITLE_FONT, textangle=-90))

for text, y in zip(GROUP_TITLES, GROUP_TITLE_Y):
    annotations.append(note('<b>%s</b>' % text, 1, y,
                            dict(family='Liberation Sans', size=11.5, color='#111111'),
                            xanchor='left'))

# legend keys sit on their own hidden axes so the labels can be placed close to the dots
fig.add_trace(go.Scatter(
    x=[0] * len(COLLECTIONS), y=COLLECTIONS, mode='markers', xaxis='x10', yaxis='y10',
    showlegend=False, marker=dict(color=COLORS, size=MARKER_SIZE, opacity=0.78, line_width=0),
))
layout_axes['xaxis10'] = dict(visible=False, range=[0, 1], anchor='y10', automargin=False,
                              domain=[px_x(610), px_x(690)])
layout_axes['yaxis10'] = dict(visible=False, anchor='x10', type='category', automargin=False,
                              categoryorder='array', categoryarray=COLLECTIONS[::-1],
                              domain=[px_y(140.5), px_y(88.5)])
for name in COLLECTIONS:
    annotations.append(dict(text=name, x=0, y=name, xref='x10', yref='y10', showarrow=False,
                            xanchor='left', yanchor='middle', xshift=11,
                            font=dict(family='Liberation Sans', size=10.3, color='#262626')))
annotations.append(note('Collection', 603.5, 77,
                        dict(family='Liberation Sans', size=12, color='#111111'), xanchor='left'))

fig.update_layout(
    template='none', width=W, height=H, margin=dict(l=0, r=0, t=0, b=0, pad=0), autosize=False,
    paper_bgcolor='white', plot_bgcolor='white', showlegend=False,
    annotations=annotations, **layout_axes,
)
fig.write_html("out.html", config={'displayModeBar': False},
               post_script="document.body.style.margin='0';")
